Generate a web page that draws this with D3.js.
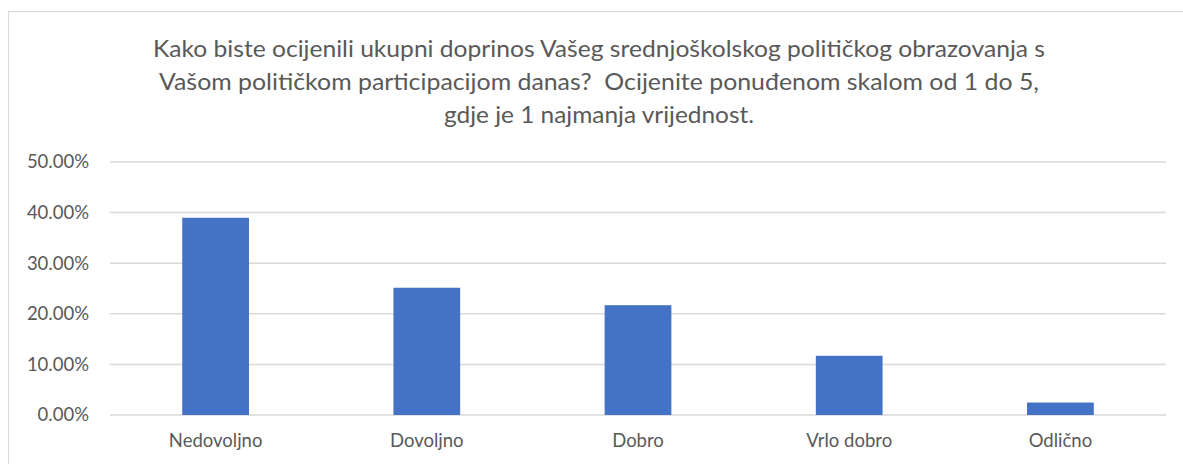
<!DOCTYPE html>
<html>
<head>
<meta charset="utf-8">
<script src="https://cdn.jsdelivr.net/npm/d3@7"></script>
<style>
  body { margin: 0; background: #fff; }
  svg { display: block; }
  text { font-family: Lato, "Open Sans", "Liberation Sans", sans-serif; }
</style>
</head>
<body>
<svg id="chart" width="1183" height="464"></svg>
<script>
// Chart data
const categories = ["Nedovoljno", "Dovoljno", "Dobro", "Vrlo dobro", "Odlično"];
const values = [0.3898, 0.2515, 0.2170, 0.1170, 0.0246];
const yTicks = [0, 0.1, 0.2, 0.3, 0.4, 0.5];
const titleLines = [
  "Kako biste ocijenili ukupni doprinos Vašeg srednjoškolskog političkog obrazovanja s",
  "Vašom političkom participacijom danas?  Ocijenite ponuđenom skalom od 1 do 5,",
  "gdje je 1 najmanja vrijednost."
];

const chart = d3.select("#chart");
const margin = { top: 162, right: 17, bottom: 49, left: 110 };
const width = +chart.attr("width");
const height = +chart.attr("height");
const labelFont = "Lato, 'Open Sans', 'Liberation Sans', sans-serif";

// chart area border
chart.append("rect")
  .attr("x", 8.5).attr("y", 11.5)
  .attr("width", 1190).attr("height", 470)
  .attr("fill", "none")
  .attr("stroke", "#d9d9d9")
  .attr("stroke-width", 1);

// title, three centered lines
const titleWidths = [892, 880, 310];
chart.append("g")
  .selectAll("text")
  .data(titleLines)
  .join("text")
    .attr("x", 599)
    .attr("y", (d, i) => 57 + i * 33)
    .attr("text-anchor", "middle")
    .style("font-size", "23px")
    .style("font-family", labelFont)
    .style("white-space", "pre")
    .attr("fill", "#595959")
    .attr("textLength", (d, i) => titleWidths[i])
    .attr("lengthAdjust", "spacingAndGlyphs")
    .text(d => d);

const x = d3.scaleBand()
  .domain(categories)
  .range([margin.left, width - margin.right])
  .paddingInner(0.684)
  .paddingOuter(0.342);

const y = d3.scaleLinear()
  .domain([0, 0.5])
  .range([height - margin.bottom, margin.top]);

// gridlines
chart.append("g")
  .selectAll("line")
  .data(yTicks)
  .join("line")
    .attr("x1", margin.left)
    .attr("x2", width - margin.right)
    .attr("y1", d => y(d))
    .attr("y2", d => y(d))
    .attr("stroke", "#d9d9d9")
    .attr("stroke-width", 1.5);

// bars
chart.append("g")
  .selectAll("rect")
  .data(categories)
  .join("rect")
    .attr("x", d => x(d))
    .attr("y", (d, i) => y(values[i]))
    .attr("width", x.bandwidth())
    .attr("height", (d, i) => y(0) - y(values[i]))
    .attr("fill", "#4472c4");

// y axis labels
const yAxis = chart.append("g")
  .attr("transform", `translate(${margin.left - 21},0)`)
  .call(d3.axisLeft(y).tickValues(yTicks).tickFormat(d3.format(".2%")).tickSize(0).tickPadding(0));
yAxis.select(".domain").remove();
yAxis.selectAll("text")
  .style("font-size", "18.5px")
  .style("font-family", labelFont)
  .attr("fill", "#595959");

// x axis labels
const xAxis = chart.append("g")
  .attr("transform", `translate(0,${y(0)})`)
  .call(d3.axisBottom(x).tickSize(0).tickPadding(19));
xAxis.select(".domain").remove();
xAxis.selectAll("text")
  .style("font-size", "18.5px")
  .style("font-family", labelFont)
  .attr("fill", "#595959");
</script>
</body>
</html>
